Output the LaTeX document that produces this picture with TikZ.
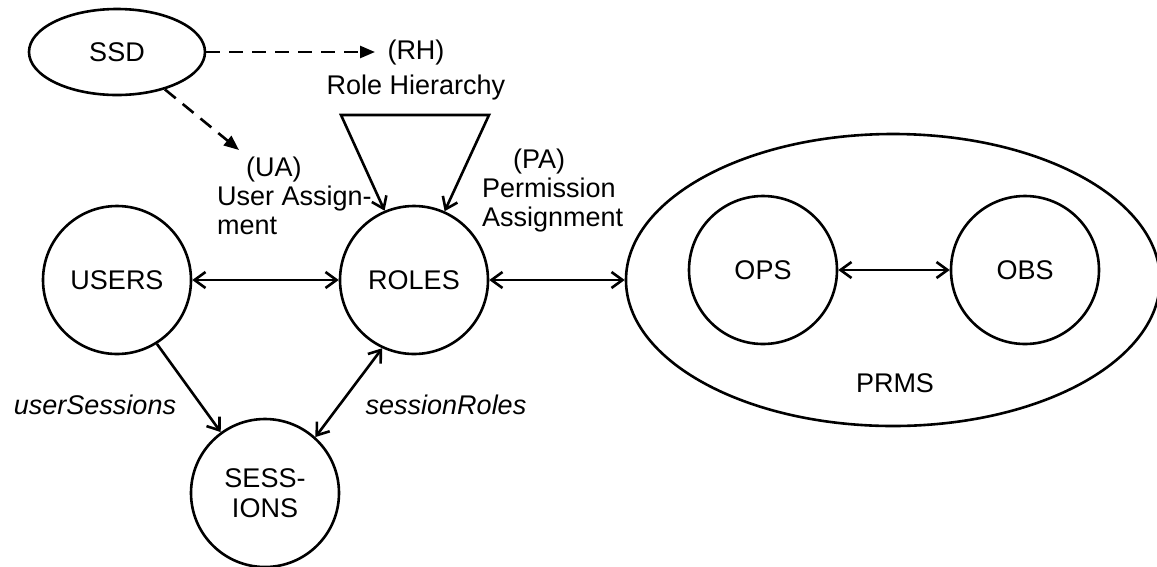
\documentclass[tikz,border=0pt]{standalone}
\usepackage{fontspec}
\setmainfont{Liberation Sans}
\usetikzlibrary{arrows.meta,shapes.geometric}
\begin{document}
\begin{tikzpicture}[x=1pt,y=-1pt,
  every node/.style={font=\fontsize{27}{29}\selectfont},
  ent/.style={circle,draw,line width=2.6pt,minimum size=148pt,inner sep=0pt},
  oval/.style={ellipse,draw,line width=2.6pt,inner sep=0pt},
  link/.style={line width=2.6pt},
  barb/.tip={Straight Barb[length=11pt,width=16pt]},
  biarrow/.style={link,barb-barb},
  onearrow/.style={link,-barb},
  ssdarrow/.style={link,dash pattern=on 14pt off 9pt,-{Triangle[length=15pt,width=12pt]}},
  caption/.style={inner sep=0pt,align=left},
]
\useasboundingbox (0,0) rectangle (1157,566);
\clip (0,0) rectangle (1157,566);

% entity sets
\node[oval,minimum width=176pt,minimum height=86pt] (ssd) at (117,52) {SSD};
\node[ent] (users) at (117,280) {USERS};
\node[ent] (roles) at (414,280) {ROLES};
\node[ent,align=center,font=\fontsize{27}{30}\selectfont] (sessions) at (265,493) {SESS-\\IONS};
\node[oval,minimum width=534pt,minimum height=292pt] (prms) at (893,280) {};
\node[ent] (ops) at (763,270) {OPS};
\node[ent] (obs) at (1025,270) {OBS};
\node (prmslabel) at (895,383) {PRMS};

% relation labels
\node[caption,align=center,font=\fontsize{27}{35}\selectfont] (rh) at (416,70) {(RH)\\Role Hierarchy};
\node[caption,anchor=west] (ua) at (217,196) {\hspace*{29pt}(UA)\\User Assign-\\ment};
\node[caption,anchor=west] (pa) at (482,191) {\hspace*{31pt}(PA)\\Permission\\Assignment};
\node[font=\fontsize{27}{29}\selectfont\itshape] (us) at (95,405) {userSessions};
\node[font=\fontsize{27}{29}\selectfont\itshape] (sr) at (446,405) {sessionRoles};

% free ends and corners
\coordinate (rhend) at (375,52);
\coordinate (uaend) at (239,150);
\coordinate (tl) at (341,115);
\coordinate (tr) at (489,115);

% SSD constraints
\draw[ssdarrow] (ssd.east) -- (rhend);
\draw[ssdarrow] (ssd.-38) -- (uaend);

% assignments
\draw[biarrow] (users) -- (roles);
\draw[biarrow] (roles) -- (prms.west);
\draw[biarrow] (ops) -- (obs);
\draw[onearrow] (users.-58) -- (sessions.126);
\draw[biarrow] (sessions.48) -- (roles.-115);

% role hierarchy loop
\draw[biarrow] (roles.113) -- (tl) -- (tr) -- (roles.66);
\end{tikzpicture}
\end{document}
